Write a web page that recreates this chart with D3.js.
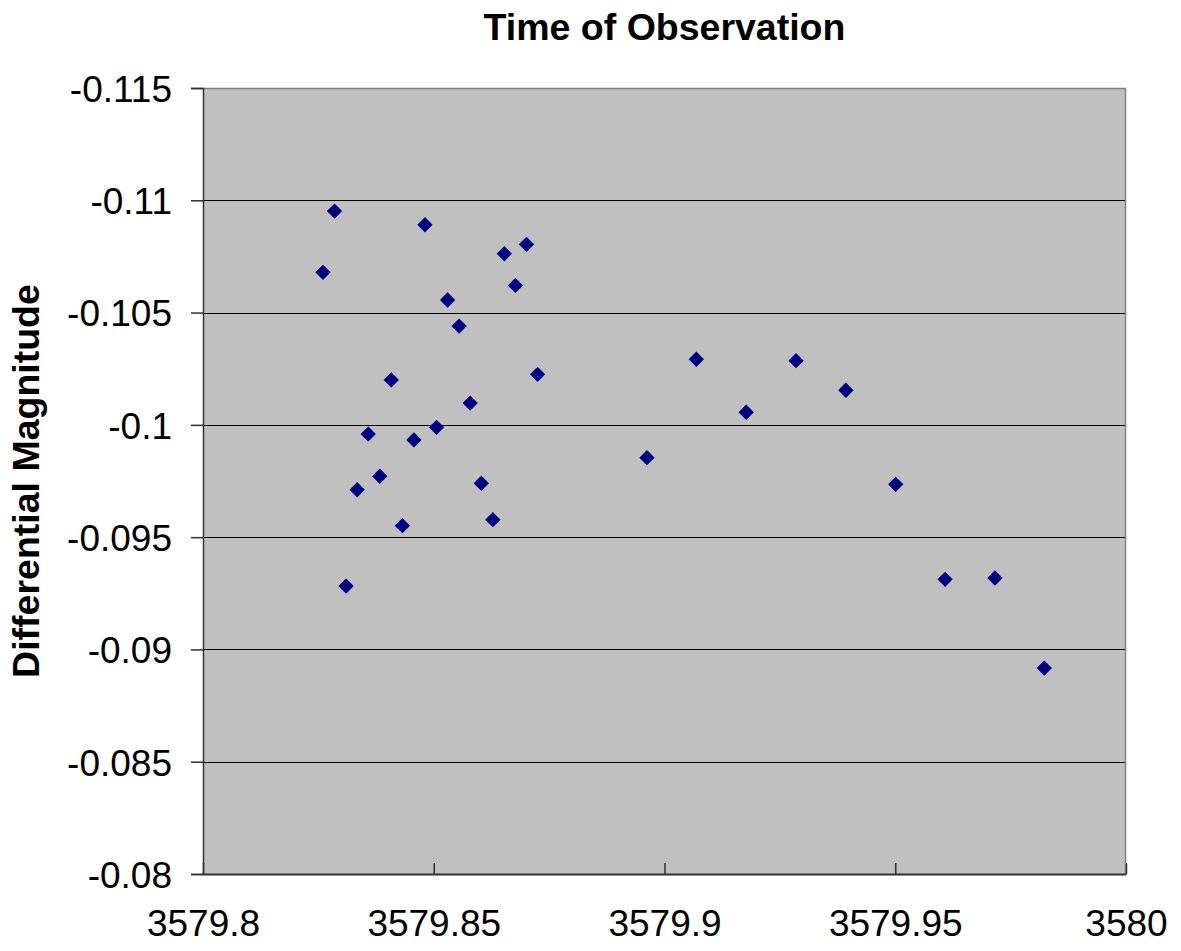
<!DOCTYPE html>
<html>
<head>
<meta charset="utf-8">
<script src="https://cdn.jsdelivr.net/npm/d3@7"></script>
<style>
  body { margin: 0; background: #fff; }
  text { font-family: "Liberation Sans", Arial, sans-serif; fill: #000; }
</style>
</head>
<body>
<div id="chart"></div>
<script>
// データ
const times = [
  3579.8260, 3579.8285, 3579.8310, 3579.8334, 3579.8358, 3579.8383, 3579.8408,
  3579.8432, 3579.8457, 3579.8481, 3579.8506, 3579.8530, 3579.8555, 3579.8579,
  3579.8603, 3579.8628, 3579.8653, 3579.8677, 3579.8701, 3579.8725,
  3579.8962, 3579.9069, 3579.9177, 3579.9285, 3579.9393, 3579.9501,
  3579.9608, 3579.9716, 3579.9823
];
const magnitudes = [
  -0.10679, -0.10952, -0.09282, -0.09711, -0.09959, -0.09771, -0.10200,
  -0.09551, -0.09933, -0.10891, -0.09989, -0.10556, -0.10440, -0.10097,
  -0.09740, -0.09578, -0.10762, -0.10621, -0.10804, -0.10225,
  -0.09854, -0.10292, -0.10056, -0.10286, -0.10154, -0.09735,
  -0.09312, -0.09318, -0.08917
];
const xTicks = [3579.8, 3579.85, 3579.9, 3579.95, 3580];
const yTicks = [-0.115, -0.11, -0.105, -0.1, -0.095, -0.09, -0.085, -0.08];
const xTickLabels = ["3579.8", "3579.85", "3579.9", "3579.95", "3580"];
const yTickLabels = ["-0.115", "-0.11", "-0.105", "-0.1", "-0.095", "-0.09", "-0.085", "-0.08"];

const width = 1181;
const height = 951;
const margin = {top: 88, right: 55, bottom: 77, left: 203};
const plotW = width - margin.left - margin.right;
const plotH = height - margin.top - margin.bottom;

const svg = d3.select("#chart").append("svg")
    .attr("width", width)
    .attr("height", height);

const x = d3.scaleLinear().domain([3579.8, 3580]).range([0, plotW]);
const y = d3.scaleLinear().domain([-0.115, -0.08]).range([0, plotH]);

const g = svg.append("g").attr("transform", `translate(${margin.left},${margin.top})`);

// 背景
g.append("rect")
    .attr("width", plotW)
    .attr("height", plotH)
    .attr("fill", "#c0c0c0");

// 横グリッド
g.selectAll("line.grid")
    .data(yTicks.slice(1, -1))
    .enter().append("line")
    .attr("class", "grid")
    .attr("x1", 0).attr("x2", plotW)
    .attr("y1", d => Math.round(y(d)) + 0.5)
    .attr("y2", d => Math.round(y(d)) + 0.5)
    .attr("stroke", "#000")
    .attr("stroke-width", 1);

// 枠線（上・右はグレー）
g.append("path")
    .attr("d", `M0.5,0.5H${plotW - 0.5}V${plotH}`)
    .attr("fill", "none")
    .attr("stroke", "#808080")
    .attr("stroke-width", 1.5);

// Y軸
const yAxis = d3.axisLeft(y)
    .tickValues(yTicks)
    .tickFormat((d, i) => yTickLabels[i])
    .tickSize(12)
    .tickPadding(19);
const yg = g.append("g").call(yAxis);
yg.select(".domain").attr("stroke", "#303030").attr("stroke-width", 1.5);
yg.selectAll(".tick line").attr("stroke", "#303030").attr("stroke-width", 1.5);
yg.selectAll(".tick text")
    .attr("font-size", 37)
    .attr("font-family", "Liberation Sans, Arial, sans-serif")
    .attr("dy", "0.36em");

// X軸（目盛りは内側）
const xAxis = d3.axisBottom(x)
    .tickValues(xTicks)
    .tickFormat((d, i) => xTickLabels[i])
    .tickSize(-11)
    .tickSizeOuter(0)
    .tickPadding(0);
const xg = g.append("g").attr("transform", `translate(0,${plotH})`).call(xAxis);
xg.select(".domain").attr("stroke", "#303030").attr("stroke-width", 2);
xg.selectAll(".tick line").attr("stroke", "#303030").attr("stroke-width", 1.5);
xg.selectAll(".tick text")
    .attr("font-size", 37)
    .attr("font-family", "Liberation Sans, Arial, sans-serif")
    .attr("y", 62)
    .attr("dy", 0);

// データ点（ひし形）
const diamond = d3.symbol().type(d3.symbolDiamond2).size(150);
g.selectAll("path.pt")
    .data(times.map((t, i) => ({t: t, m: magnitudes[i]})))
    .enter().append("path")
    .attr("class", "pt")
    .attr("d", diamond)
    .attr("transform", d => `translate(${x(d.t)},${y(d.m)})`)
    .attr("fill", "#000080");

// タイトル
svg.append("text")
    .attr("x", margin.left + plotW / 2)
    .attr("y", 40)
    .attr("text-anchor", "middle")
    .attr("font-size", 37.5)
    .attr("font-weight", "bold")
    .text("Time of Observation");

// Y軸ラベル
svg.append("text")
    .attr("transform", `translate(39,${margin.top + plotH / 2}) rotate(-90)`)
    .attr("text-anchor", "middle")
    .attr("font-size", 37.5)
    .attr("font-weight", "bold")
    .text("Differential Magnitude");
</script>
</body>
</html>
